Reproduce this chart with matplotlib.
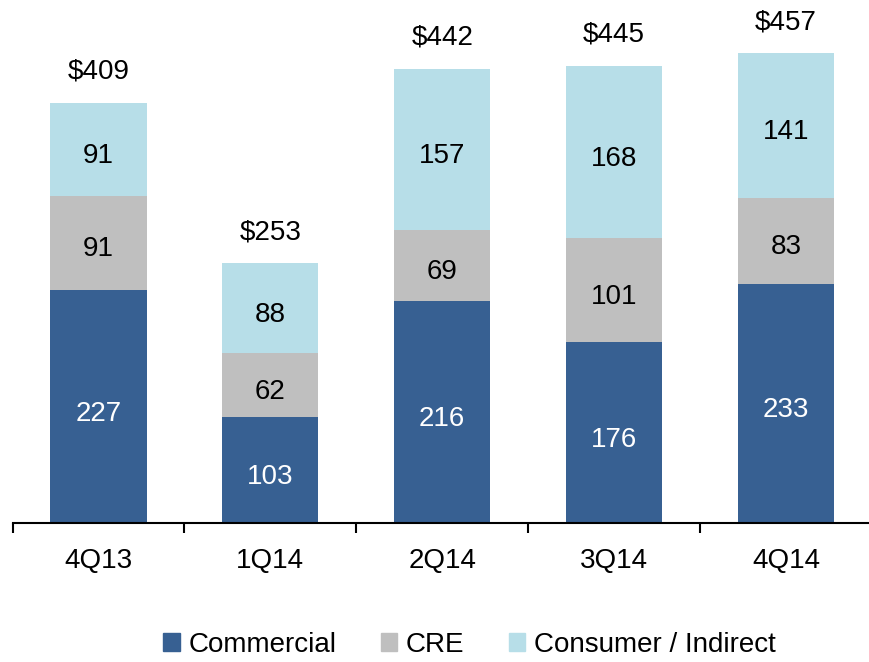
import matplotlib
matplotlib.use("Agg")
import matplotlib.pyplot as plt
from matplotlib.patches import Patch

plt.rcParams['font.family'] = ['Liberation Sans', 'DejaVu Sans']

categories = ["4Q13", "1Q14", "2Q14", "3Q14", "4Q14"]
commercial = [227, 103, 216, 176, 233]
cre = [91, 62, 69, 101, 83]
consumer = [91, 88, 157, 168, 141]
totals = ["$409", "$253", "$442", "$445", "$457"]

c_com = "#376092"
c_cre = "#BFBFBF"
c_con = "#B7DEE8"

fig = plt.figure(figsize=(8.69, 6.62), dpi=100)
ax = fig.add_axes([12.5 / 869, 1 - 523 / 662, 859.5 / 869, 523 / 662])

x = list(range(len(categories)))
w = 0.56
fs = 20

ax.bar(x, commercial, width=w, color=c_com)
ax.bar(x, cre, width=w, bottom=commercial, color=c_cre)
bottom3 = [a + b for a, b in zip(commercial, cre)]
ax.bar(x, consumer, width=w, bottom=bottom3, color=c_con)

def lab(xv, yv, s, color, dy):
    ax.annotate(s, (xv, yv), xytext=(0, dy), textcoords='offset points',
                ha='center', va='center_baseline', color=color, fontsize=fs)

for i in x:
    lab(i, commercial[i] / 2, str(commercial[i]), 'white', -3)
    lab(i, commercial[i] + cre[i] / 2, str(cre[i]), 'black', -2.5)
    lab(i, bottom3[i] + consumer[i] / 2, str(consumer[i]), 'black', -2.5)
    lab(i, bottom3[i] + consumer[i], totals[i], 'black', 24.5)

ax.set_xlim(-0.5, 4.5)
ax.set_ylim(0, 509)
for s in ['top', 'right', 'left']:
    ax.spines[s].set_visible(False)
ax.spines['bottom'].set_linewidth(1.5)
ax.set_yticks([])
ax.set_xticks([i - 0.5 for i in range(len(categories) + 1)])
ax.set_xticklabels([])
ax.tick_params(axis='x', direction='out', length=7, width=1.5)
ax.set_xticks(x, minor=True)
ax.set_xticklabels(categories, minor=True, fontsize=fs)
ax.tick_params(axis='x', which='minor', length=0, pad=18)

handles = [Patch(color=c_com, label='Commercial'),
           Patch(color=c_cre, label='CRE'),
           Patch(color=c_con, label='Consumer / Indirect')]
fig.legend(handles=handles, loc='center', bbox_to_anchor=(0.54, 1 - 645 / 662), ncol=3,
           frameon=False, fontsize=fs, handlelength=0.6, handleheight=0.6,
           handletextpad=0.3, columnspacing=1.6)

fig.savefig("out.png", dpi=100)
